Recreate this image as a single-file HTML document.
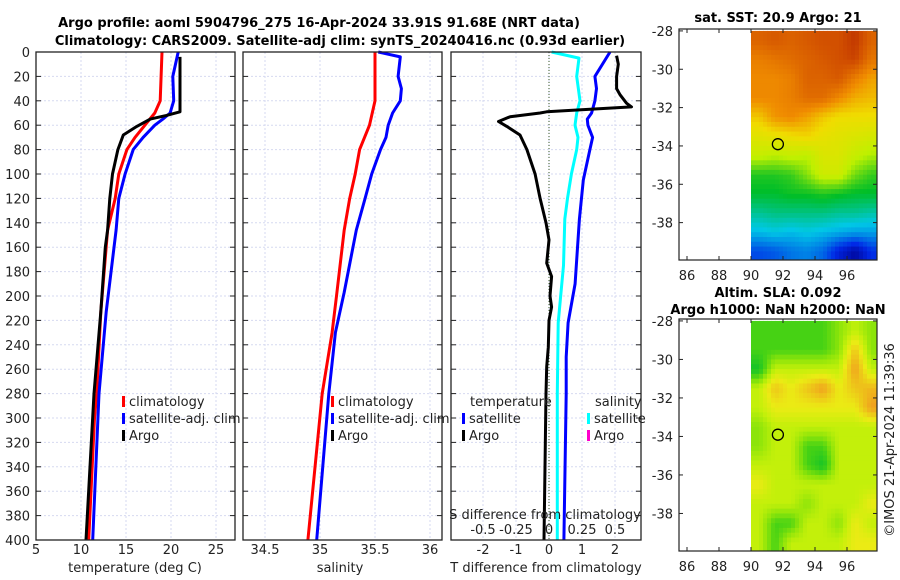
<!DOCTYPE html>
<html><head><meta charset="utf-8">
<style>
html,body{margin:0;padding:0;background:#fff;}
svg{display:block;font-family:"DejaVu Sans","Liberation Sans",sans-serif;}
</style></head>
<body>
<svg id="chart" width="900" height="580" viewBox="0 0 900 580" xmlns="http://www.w3.org/2000/svg">
<text x="319" y="27" text-anchor="middle" font-size="13" font-weight="bold">Argo profile: aoml 5904796_275 16-Apr-2024 33.91S 91.68E (NRT data)</text>
<text x="340" y="45" text-anchor="middle" font-size="13" font-weight="bold">Climatology: CARS2009. Satellite-adj clim: synTS_20240416.nc (0.93d earlier)</text>
<text x="778" y="22" text-anchor="middle" font-size="13" font-weight="bold">sat. SST: 20.9 Argo: 21</text>
<text x="778" y="297" text-anchor="middle" font-size="13" font-weight="bold">Altim. SLA: 0.092</text>
<text x="778" y="314" text-anchor="middle" font-size="13" font-weight="bold">Argo h1000: NaN h2000: NaN</text>
<text transform="translate(894,440) rotate(-90)" text-anchor="middle" font-size="13" fill="#222">©IMOS 21-Apr-2024 11:39:36</text>
<g id="layer"></g>
</svg>
<script>
// ---- data ----
const depthTicks = [0,20,40,60,80,100,120,140,160,180,200,220,240,260,280,300,320,340,360,380,400];
const tempTicks = [5,10,15,20,25];
const salTicks = [34.5,35,35.5,36];
const tdiffTicks = [-2,-1,0,1,2];
const sdiffTicks = [-0.5,-0.25,0,0.25,0.5];
const sdiffTickLabels = ["-0.5","-0.25","0","0.25","0.5"];

const climTDepth = [0,40,50,60,70,80,100,120,146,213,280,300,400];
const climTVal   = [19.0,18.8,18.2,17.1,16.0,15.1,14.2,13.8,12.96,12.2,11.74,11.5,10.85];
const satTDepth  = [0,20,40,50,55,60,70,80,100,120,146,213,280,400];
const satTVal    = [20.8,20.2,20.3,19.9,19.1,18.2,16.9,15.8,14.9,14.2,13.9,12.8,12.0,11.3];
const argoTDepth = [4,49,52,55,61,68,80,100,120,146,160,213,280,400];
const argoTVal   = [21.0,21.0,19.5,17.7,16.2,14.7,14.1,13.5,13.2,12.96,12.7,12.2,11.45,10.55];

const climSDepth = [0,40,60,80,100,120,146,200,230,280,400];
const climSVal   = [35.5,35.5,35.45,35.36,35.32,35.27,35.22,35.15,35.11,35.02,34.89];
const satSDepth  = [0,4,20,30,40,50,60,70,80,100,120,146,197,230,280,400];
const satSVal    = [35.53,35.73,35.71,35.74,35.73,35.66,35.62,35.6,35.55,35.47,35.41,35.33,35.22,35.14,35.08,34.97];

const sDiffDepth = [0,5,20,40,50,60,70,80,100,120,137,175,222,280,400];
const sDiffVal   = [0.02,0.227,0.21,0.235,0.21,0.197,0.22,0.21,0.17,0.14,0.12,0.11,0.07,0.063,0.063];
const tSatDiffDepth = [0,20,30,40,50,55,60,70,80,105,137,190,222,250,280,400];
const tSatDiffVal   = [1.85,1.39,1.44,1.39,1.29,1.16,1.18,1.32,1.24,1.04,0.92,0.79,0.58,0.52,0.52,0.45];
const tArgoDiffDepth = [3,10,20,30,35,42,45,49,50,53,57,61,68,80,100,120,140,154,173,184,200,209,220,242,258,280,340,400];
const tArgoDiffVal   = [2.05,2.1,2.05,2.05,2.15,2.35,2.5,-0.07,-0.27,-1.18,-1.53,-1.28,-0.88,-0.67,-0.42,-0.27,-0.09,0.0,-0.07,0.08,0.03,0.08,0.0,-0.02,-0.07,-0.09,-0.12,-0.15];

const lonTicks = [86,88,90,92,94,96];
const latTicks = [-28,-30,-32,-34,-36,-38];
const gridLons = [90,91,92,93,94,95,96,97];
const gridLats = [-28,-29,-30,-31,-32,-33,-34,-35,-36,-37,-38,-39];
const sstGrid = [
 [21.6,21.7,21.6,21.7,21.8,21.8,22.0,21.6],
 [21.3,21.4,21.5,21.6,21.7,21.8,21.9,21.4],
 [21.2,21.2,21.3,21.6,21.6,21.7,21.3,21.0],
 [21.2,21.2,21.3,21.5,21.5,21.2,20.9,20.8],
 [20.7,21.1,21.2,21.0,20.7,20.5,20.5,20.5],
 [20.3,20.4,20.5,20.6,20.4,20.3,20.2,20.1],
 [19.9,19.8,19.9,19.8,20.2,20.2,19.9,19.7],
 [19.0,19.0,19.1,19.5,20.0,20.0,19.4,19.1],
 [18.8,18.8,18.9,18.9,19.0,18.9,18.8,18.8],
 [18.3,18.4,18.4,18.4,18.4,18.3,18.3,18.2],
 [17.8,17.9,17.8,17.9,17.8,17.7,17.6,17.6],
 [17.0,17.1,17.3,17.4,17.2,16.6,16.2,16.8]];
const slaGrid = [
 [0.0,0.0,0.0,0.0,0.0,0.05,0.1,0.05],
 [0.0,0.0,0.0,0.0,0.0,0.05,0.2,0.05],
 [-0.05,0.1,0.1,0.1,0.1,0.1,0.25,0.1],
 [0.1,0.2,0.15,0.2,0.25,0.15,0.2,0.22],
 [0.1,0.15,0.15,0.15,0.15,0.15,0.15,0.25],
 [0.05,0.1,0.1,0.1,0.1,0.1,0.1,0.1],
 [0.05,0.1,0.1,0.0,0.0,0.1,0.1,0.1],
 [0.1,0.1,0.1,0.0,-0.05,0.1,0.1,0.1],
 [0.15,0.1,0.1,0.1,0.1,0.1,0.1,0.1],
 [0.1,0.1,0.1,0.05,0.1,0.1,0.1,0.15],
 [0.1,0.0,0.0,0.1,0.1,0.05,0.15,0.1],
 [0.1,0.0,0.1,0.1,0.1,0.1,0.15,0.15]];
const argoLon = 91.68, argoLat = -33.91;

// ---- geometry ----
const NS = "http://www.w3.org/2000/svg";
const layer = document.getElementById('layer');
function el(tag, attrs, parent){ const e=document.createElementNS(NS,tag); for(const k in attrs) e.setAttribute(k,attrs[k]); (parent||layer).appendChild(e); return e; }
const Y0=52, Y1=540;
const yD = d => Y0 + (d/400)*(Y1-Y0);
const xT = t => 36 + (t-5)*9;
const xS = s => 265 + (s-34.5)*110;
const xTd = t => 549 + t*33;
const xSd = s => 549 + s*132;
const panels = [{x0:36,x1:235,name:'temperature-panel'},{x0:243,x1:442,name:'salinity-panel'},{x0:451,x1:641,name:'difference-panel'}];

function grid(x0,x1,xs){
  depthTicks.forEach(d=>{ const l=el('line',{x1:x0,x2:x1,y1:yD(d),y2:yD(d),stroke:'#d6daf0','stroke-width':1,'stroke-dasharray':'2,2'});
      });
  xs.forEach(x=>{ const l=el('line',{x1:x,x2:x,y1:Y0,y2:Y1,stroke:'#d6daf0','stroke-width':1,'stroke-dasharray':'2,2'});
      });
}
grid(36,235,tempTicks.map(xT));
grid(243,442,salTicks.map(xS));
grid(451,641,tdiffTicks.map(xTd));
const zl = el('line',{x1:549,x2:549,y1:Y0,y2:Y1,stroke:'#3a5a2a','stroke-width':1,'stroke-dasharray':'1,2'});
 

function line(xs, ds, fx, color, name, w){
  const pts = ds.map((d,i)=>fx(xs[i]).toFixed(1)+','+yD(d).toFixed(1)).join(' ');
  const p = el('polyline',{points:pts,fill:'none',stroke:color,'stroke-width':w||3,'stroke-linejoin':'round'});
   
}
line(climTVal,climTDepth,xT,'#ff0000','temp-climatology-line');
line(satTVal,satTDepth,xT,'#0000ff','temp-satellite-line');
line(argoTVal,argoTDepth,xT,'#000','temp-argo-line');
line(climSVal,climSDepth,xS,'#ff0000','sal-climatology-line');
line(satSVal,satSDepth,xS,'#0000ff','sal-satellite-line');
line(sDiffVal,sDiffDepth,xSd,'#00ffff','sdiff-satellite-line');
line(tSatDiffVal,tSatDiffDepth,xTd,'#0000ff','tdiff-satellite-line');
line(tArgoDiffVal,tArgoDiffDepth,xTd,'#000','tdiff-argo-line');

// frames and ticks
panels.forEach((p,pi)=>{
  const r=el('rect',{x:p.x0,y:Y0,width:p.x1-p.x0,height:Y1-Y0,fill:'none',stroke:'#222','stroke-width':1.3});
   
  depthTicks.forEach(d=>{
    el('line',{x1:p.x0,x2:p.x0+5,y1:yD(d),y2:yD(d),stroke:'#222'});
    el('line',{x1:p.x1-5,x2:p.x1,y1:yD(d),y2:yD(d),stroke:'#222'});
  });
});
depthTicks.forEach(d=>{ const t=el('text',{x:30,y:yD(d)+5,'text-anchor':'end','font-size':13,fill:'#222'}); t.textContent=d;
    });
function xlabels(ticks,fx,y,labels,name){ ticks.forEach((v,i)=>{ const t=el('text',{x:fx(v),y:y,'text-anchor':'middle','font-size':13,fill:'#222'}); t.textContent=labels?labels[i]:v;
    }); }
xlabels(tempTicks,xT,554,null,'temp-tick-label');
xlabels(salTicks,xS,554,null,'sal-tick-label');
xlabels(tdiffTicks,xTd,554,null,'tdiff-tick-label');
xlabels(sdiffTicks,xSd,534,sdiffTickLabels,'sdiff-tick-label');
function txt(x,y,s,name,anchor,size){ const t=el('text',{x:x,y:y,'text-anchor':anchor||'start','font-size':size||13,fill:'#222'}); t.textContent=s;
    return t; }
txt(135,572,'temperature (deg C)','x-axis-title-temperature','middle',13);
txt(340,572,'salinity','x-axis-title-salinity','middle',13);
txt(546,572,'T difference from climatology','x-axis-title-tdiff','middle',13);
txt(545,519,'S difference from climatology','x-axis-title-sdiff','middle',13);

// legends
function legItem(x,y,color,label,name){
  const m=el('rect',{x:x,y:y-10,width:3,height:11,fill:color});  
  txt(x+7,y,label,name,'start',13);
}
legItem(122,406,'#ff0000','climatology','legend-temp-climatology');
legItem(122,423,'#0000ff','satellite-adj. clim','legend-temp-satellite');
legItem(122,440,'#000','Argo','legend-temp-argo');
legItem(331,406,'#ff0000','climatology','legend-sal-climatology');
legItem(331,423,'#0000ff','satellite-adj. clim','legend-sal-satellite');
legItem(331,440,'#000','Argo','legend-sal-argo');
txt(470,406,'temperature','legend-tdiff-header','start',13);
legItem(462,423,'#0000ff','satellite','legend-tdiff-satellite');
legItem(462,440,'#000','Argo','legend-tdiff-argo');
txt(595,406,'salinity','legend-sdiff-header','start',13);
legItem(587,423,'#00ffff','satellite','legend-sdiff-satellite');
legItem(587,440,'#ff00cc','Argo','legend-sdiff-argo');

// ---- maps ----
function jet(v,lo,hi){
  let t=Math.max(0,Math.min(1,(v-lo)/(hi-lo)));
  const stops=[[0,[0,0,140]],[0.12,[0,40,230]],[0.3,[0,200,230]],[0.45,[0,190,40]],[0.6,[190,240,0]],[0.72,[240,220,0]],[0.82,[240,140,0]],[0.92,[210,80,0]],[1,[170,20,0]]];
  for(let i=1;i<stops.length;i++){ if(t<=stops[i][0]){ const a=stops[i-1],b=stops[i],f=(t-a[0])/(b[0]-a[0]);
    return 'rgb('+a[1].map((c,j)=>Math.round(c+(b[1][j]-c)*f)).join(',')+')'; } }
  return 'rgb(170,20,0)';
}
function slaCol(v){
  const stops=[[-0.05,[20,195,40]],[0.0,[70,210,20]],[0.05,[140,228,10]],[0.1,[195,240,10]],[0.15,[235,235,20]],[0.25,[240,160,30]]];
  if(v<=stops[0][0]) return 'rgb(20,195,40)';
  for(let i=1;i<stops.length;i++){ if(v<=stops[i][0]){ const a=stops[i-1],b=stops[i],f=(v-a[0])/(b[0]-a[0]);
    return 'rgb('+a[1].map((c,j)=>Math.round(c+(b[1][j]-c)*f)).join(',')+')'; } }
  return 'rgb(240,160,30)';
}
function sample(G,r,c){ // bilinear between cell centres
  const R=G.length, C=G[0].length;
  r=Math.max(0,Math.min(R-1,r)); c=Math.max(0,Math.min(C-1,c));
  const r0=Math.floor(r), c0=Math.floor(c), r1=Math.min(R-1,r0+1), c1=Math.min(C-1,c0+1), fr=r-r0, fc=c-c0;
  return G[r0][c0]*(1-fr)*(1-fc)+G[r0][c1]*(1-fr)*fc+G[r1][c0]*fr*(1-fc)+G[r1][c1]*fr*fc;
}
function drawMap(top,bottom,gridVals,colorFn,name){
  const X0=679,X1=877, SUB=4;
  const xL = lon => 751 + (lon-90)*16;
  const pxLat = (bottom-top)/12.05;
  const yL = lat => top + (-27.9-lat)*pxLat;
  const cid='clip-'+name;
  const cp=el('clipPath',{id:cid}); el('rect',{x:X0,y:top,width:X1-X0,height:bottom-top},cp);
  const g=el('g',{'clip-path':'url(#'+cid+')'});
   
  gridLats.forEach((lat,r)=>{ gridLons.forEach((lon,c)=>{
    for(let i=0;i<SUB;i++) for(let j=0;j<SUB;j++){
      const v=sample(gridVals, r-0.5+(i+0.5)/SUB, c-0.5+(j+0.5)/SUB);
      const cell=el('rect',{x:xL(lon+j/SUB),y:yL(lat-i/SUB),width:16/SUB+0.5,height:pxLat/SUB+0.5,fill:colorFn(v)},g);
       
    }
  });});
  const f=el('rect',{x:X0,y:top,width:X1-X0,height:bottom-top,fill:'none',stroke:'#222','stroke-width':1.2});
   
  latTicks.forEach(lat=>{ const y=yL(lat); el('line',{x1:X0,x2:X0+4,y1:y,y2:y,stroke:'#222'}); el('line',{x1:X1-4,x2:X1,y1:y,y2:y,stroke:'#222'});
    txt(673,y+5,String(lat),name+'-lat-label','end',13); });
  lonTicks.forEach(lon=>{ const x=xL(lon); el('line',{x1:x,x2:x,y1:bottom,y2:bottom-4,stroke:'#222'}); el('line',{x1:x,x2:x,y1:top,y2:top+4,stroke:'#222'});
    txt(x,bottom+20,String(lon),name+'-lon-label','middle',13); });
  const c=el('circle',{cx:xL(argoLon),cy:yL(argoLat),r:5.5,fill:'none',stroke:'#000','stroke-width':1.3});
   
}
drawMap(29,260,sstGrid,v=>jet(v,16,22.3),'sst-map');
drawMap(319,551,slaGrid,slaCol,'sla-map');
</script>
</body></html>
